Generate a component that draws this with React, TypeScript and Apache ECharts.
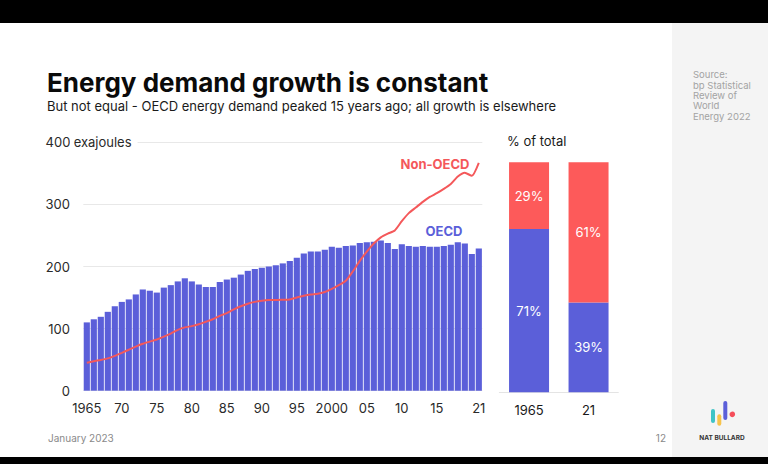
import React, { useEffect, useRef } from 'react';
import * as echarts from 'echarts';

// Primary energy demand, exajoules
const years = [
  '1965', '1966', '1967', '1968', '1969', '1970', '1971', '1972', '1973', '1974',
  '1975', '1976', '1977', '1978', '1979', '1980', '1981', '1982', '1983', '1984',
  '1985', '1986', '1987', '1988', '1989', '1990', '1991', '1992', '1993', '1994',
  '1995', '1996', '1997', '1998', '1999', '2000', '2001', '2002', '2003', '2004',
  '2005', '2006', '2007', '2008', '2009', '2010', '2011', '2012', '2013', '2014',
  '2015', '2016', '2017', '2018', '2019', '2020', '2021',
];

const oecd = [
  110, 115, 119, 127, 136, 143, 147, 155, 163, 161,
  158, 166, 170, 176, 181, 176, 171, 167, 167, 175,
  179, 182, 187, 193, 196, 198, 200, 202, 205, 209,
  214, 221, 224, 224, 227, 232, 230, 233, 234, 238,
  239, 240, 242, 238, 228, 236, 233, 232, 233, 232,
  232, 233, 235, 239, 237, 220, 229,
];

const nonOecd = [
  45, 47.5, 49.5, 52, 56, 61, 66, 71, 75.5, 79,
  82.5, 87, 92, 98, 102, 104, 107, 111, 115, 120.5,
  125, 131, 136, 140, 143, 145, 146, 146, 146.5, 147,
  150, 153, 155, 156, 159, 164, 170, 177, 192, 209,
  224, 237, 247, 253, 258, 273, 286, 295, 304, 312,
  318, 325, 333, 345, 351, 346, 367,
];

const xTickYears = ['1965', '1970', '1975', '1980', '1985', '1990', '1995', '2000', '2005', '2010', '2015', '2021'];
const xTickLabels = ['1965', '70', '75', '80', '85', '90', '95', '2000', '05', '10', '15', '21'];
const yUnit = 'exajoules';

// Share of total demand, %
const shareCategories = ['1965', '21'];
const shareOecd = [71, 39];
const shareNonOecd = [29, 61];

const titleText = 'Energy demand growth is constant';
const subtitleText = 'But not equal - OECD energy demand peaked 15 years ago; all growth is elsewhere';
const sourceLines = ['Source:', 'bp Statistical', 'Review of', 'World', 'Energy 2022'];

const BLUE = '#5b5fd9';
const RED = '#fd5a5a';
const FONT = 'Inter, "Noto Sans", sans-serif';

export default function App() {
  const ref = useRef<HTMLDivElement>(null);

  useEffect(() => {
    if (!ref.current) return;
    const chart = echarts.init(ref.current, undefined, { renderer: 'svg' });

    chart.setOption({
      animation: false,
      backgroundColor: '#ffffff',
      textStyle: { fontFamily: FONT },
      grid: [
        { left: 83.3, right: 285.7, top: 142.3, bottom: 73.3 },
        { left: 499.3, width: 119, top: 162.3, bottom: 71.7 },
      ],
      xAxis: [
        {
          type: 'category',
          gridIndex: 0,
          data: years,
          axisLine: { show: false },
          axisTick: { show: false },
          axisLabel: {
            margin: 11,
            fontSize: 13,
            color: '#2a2a2a',
            fontFamily: FONT,
            interval: (_i: number, v: string) => xTickYears.includes(v),
            formatter: (v: string) => {
              const k = xTickYears.indexOf(v);
              return k >= 0 ? xTickLabels[k] : '';
            },
          },
        },
        {
          type: 'category',
          gridIndex: 1,
          data: shareCategories,
          axisLine: { show: true, lineStyle: { color: '#e4e4e4', width: 1 } },
          axisTick: { show: false },
          axisLabel: { margin: 11, fontSize: 13, color: '#1a1a1a', fontFamily: FONT },
        },
      ],
      yAxis: [
        {
          type: 'value',
          gridIndex: 0,
          min: 0,
          max: 400,
          interval: 100,
          axisLine: { show: false },
          axisTick: { show: false },
          splitLine: { lineStyle: { color: '#e8e8e8', width: 1 } },
          axisLabel: {
            align: 'left',
            margin: 37.3,
            formatter: (v: number) => (v === 400 ? `{n|${v}}{u| ${yUnit}}` : `{n|${v}}`),
            rich: {
              n: { width: 24, align: 'right', fontSize: 13, color: '#2a2a2a', fontFamily: FONT },
              u: {
                fontSize: 13,
                color: '#2a2a2a',
                fontFamily: FONT,
                backgroundColor: '#ffffff',
                padding: [3, 6, 3, 0],
              },
            },
          },
        },
        {
          type: 'value',
          gridIndex: 1,
          min: 0,
          max: 100,
          show: false,
          splitLine: { show: false },
        },
      ],
      series: [
        {
          name: 'OECD',
          type: 'bar',
          xAxisIndex: 0,
          yAxisIndex: 0,
          data: oecd,
          barCategoryGap: '12%',
          itemStyle: { color: BLUE },
        },
        {
          name: 'Non-OECD',
          type: 'line',
          xAxisIndex: 0,
          yAxisIndex: 0,
          data: nonOecd,
          showSymbol: false,
          smooth: 0.2,
          lineStyle: { color: '#f4585a', width: 2 },
          z: 3,
        },
        {
          name: 'OECD share',
          type: 'bar',
          xAxisIndex: 1,
          yAxisIndex: 1,
          stack: 'share',
          data: shareOecd,
          barWidth: 40,
          itemStyle: { color: BLUE },
          label: {
            show: true,
            position: 'inside',
            formatter: '{c}%',
            color: '#ffffff',
            fontSize: 13,
            fontFamily: FONT,
          },
        },
        {
          name: 'Non-OECD share',
          type: 'bar',
          xAxisIndex: 1,
          yAxisIndex: 1,
          stack: 'share',
          data: shareNonOecd,
          barWidth: 40,
          itemStyle: { color: RED },
          label: {
            show: true,
            position: 'inside',
            formatter: '{c}%',
            color: '#ffffff',
            fontSize: 13,
            fontFamily: FONT,
          },
        },
      ],
      graphic: [
        { type: 'rect', shape: { x: 0, y: 0, width: 768, height: 23 }, style: { fill: '#000' }, z: 100 },
        { type: 'rect', shape: { x: 0, y: 457, width: 768, height: 7 }, style: { fill: '#000' }, z: 100 },
        { type: 'rect', shape: { x: 672, y: 23, width: 96, height: 434 }, style: { fill: '#f4f4f4' }, z: 0 },
        {
          type: 'text',
          x: 693,
          y: 69.5,
          style: {
            text: sourceLines.join('\n'),
            font: `9.5px ${FONT}`,
            lineHeight: 10.4,
            fill: '#a3a3a3',
            textAlign: 'left',
            textVerticalAlign: 'top',
          },
        },
        {
          type: 'text',
          x: 47,
          y: 82,
          style: {
            text: titleText,
            font: `bold 26px ${FONT}`,
            fill: '#0a0a0a',
            textAlign: 'left',
            textVerticalAlign: 'middle',
          },
        },
        {
          type: 'text',
          x: 47,
          y: 105.5,
          style: {
            text: subtitleText,
            font: `13px ${FONT}`,
            fill: '#1a1a1a',
            textAlign: 'left',
            textVerticalAlign: 'middle',
          },
        },
        {
          type: 'text',
          x: 507,
          y: 141,
          style: {
            text: '% of total',
            font: `13px ${FONT}`,
            fill: '#1a1a1a',
            textAlign: 'left',
            textVerticalAlign: 'middle',
          },
        },
        {
          type: 'text',
          x: 435,
          y: 163.5,
          style: {
            text: 'Non-OECD',
            font: `bold 13px ${FONT}`,
            fill: '#f4585a',
            textAlign: 'center',
            textVerticalAlign: 'middle',
          },
        },
        {
          type: 'text',
          x: 444,
          y: 231,
          style: {
            text: 'OECD',
            font: `bold 13px ${FONT}`,
            fill: BLUE,
            textAlign: 'center',
            textVerticalAlign: 'middle',
          },
        },
        {
          type: 'text',
          x: 48,
          y: 438,
          style: {
            text: 'January 2023',
            font: `10px ${FONT}`,
            fill: '#8a8a8a',
            textAlign: 'left',
            textVerticalAlign: 'middle',
          },
        },
        {
          type: 'text',
          x: 666,
          y: 438,
          style: {
            text: '12',
            font: `10px ${FONT}`,
            fill: '#8a8a8a',
            textAlign: 'right',
            textVerticalAlign: 'middle',
          },
        },
        // logo mark
        { type: 'rect', shape: { x: 711, y: 409, width: 4, height: 14, r: 2 }, style: { fill: '#3fc3c6' } },
        { type: 'rect', shape: { x: 717.3, y: 414.3, width: 4, height: 11.4, r: 2 }, style: { fill: '#f7c34a' } },
        { type: 'rect', shape: { x: 723.3, y: 401, width: 4, height: 19, r: 2 }, style: { fill: BLUE } },
        { type: 'circle', shape: { cx: 732.3, cy: 414.3, r: 2.8 }, style: { fill: '#f54e5a' } },
        {
          type: 'text',
          x: 722,
          y: 437.5,
          style: {
            text: 'NAT BULLARD',
            font: `bold 6.5px ${FONT}`,
            fill: '#333333',
            textAlign: 'center',
            textVerticalAlign: 'middle',
          },
        },
      ],
    });

    return () => chart.dispose();
  }, []);

  return (
    <div
      ref={ref}
      style={{ position: 'fixed', left: 0, top: 0, width: 768, height: 464 }}
    />
  );
}
